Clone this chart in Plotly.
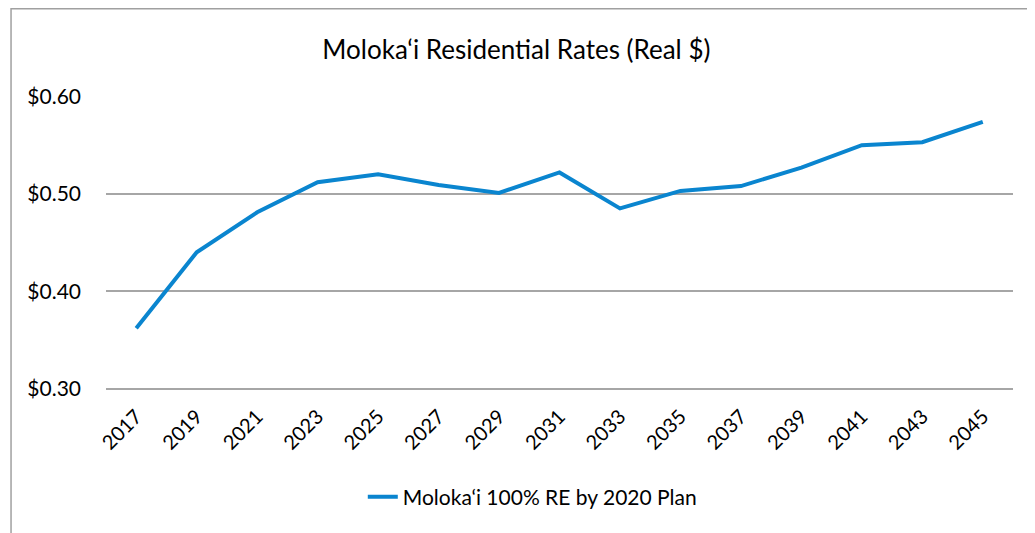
import plotly.graph_objects as go

years = ["2017", "2019", "2021", "2023", "2025", "2027", "2029", "2031",
         "2033", "2035", "2037", "2039", "2041", "2043", "2045"]
rates = [0.362, 0.440, 0.481, 0.512, 0.520, 0.509, 0.501, 0.522,
         0.485, 0.503, 0.508, 0.527, 0.550, 0.553, 0.574]
series_name = "Moloka\u2018i 100% RE by 2020 Plan"
title = "Moloka\u2018i Residential Rates (Real $)"

fig = go.Figure()
fig.add_trace(go.Scatter(x=years, y=rates, mode="lines", name=series_name,
                         line=dict(color="#0a85cf", width=4)))

font = "Lato, 'Open Sans', sans-serif"
fig.update_layout(
    width=1027, height=525,
    margin=dict(l=98, r=22, t=88, b=143),
    paper_bgcolor="white", plot_bgcolor="white",
    font=dict(family=font, color="black", size=20),
    title=dict(text=title, x=0.495, xanchor="center", y=1 - 42 / 525, yanchor="middle",
               font=dict(size=26, family=font, color="black")),
    showlegend=True,
    legend=dict(orientation="h", x=0.47, xanchor="center", y=-0.364, yanchor="middle",
                font=dict(size=21, family=font)),
    xaxis=dict(type="category", range=[-0.5, 14.5], tickangle=-45, showgrid=False,
               showline=False, ticks="", ticklabelstandoff=10, tickfont=dict(size=20)),
    yaxis=dict(range=[0.2985, 0.6005], tickvals=[0.3, 0.4, 0.5, 0.6], tickformat="$.2f",
               showgrid=True, gridcolor="#a6a6a6", gridwidth=2, zeroline=False,
               showline=False, ticks="", ticklabelstandoff=24, tickfont=dict(size=21)),
    shapes=[dict(type="rect", xref="paper", yref="paper", x0=-0.1047, x1=1.3,
                 y0=-0.8, y1=1.297, line=dict(color="#a0a0a0", width=1.5),
                 fillcolor="rgba(0,0,0,0)", layer="below")],
)
fig.write_html("out.html")
